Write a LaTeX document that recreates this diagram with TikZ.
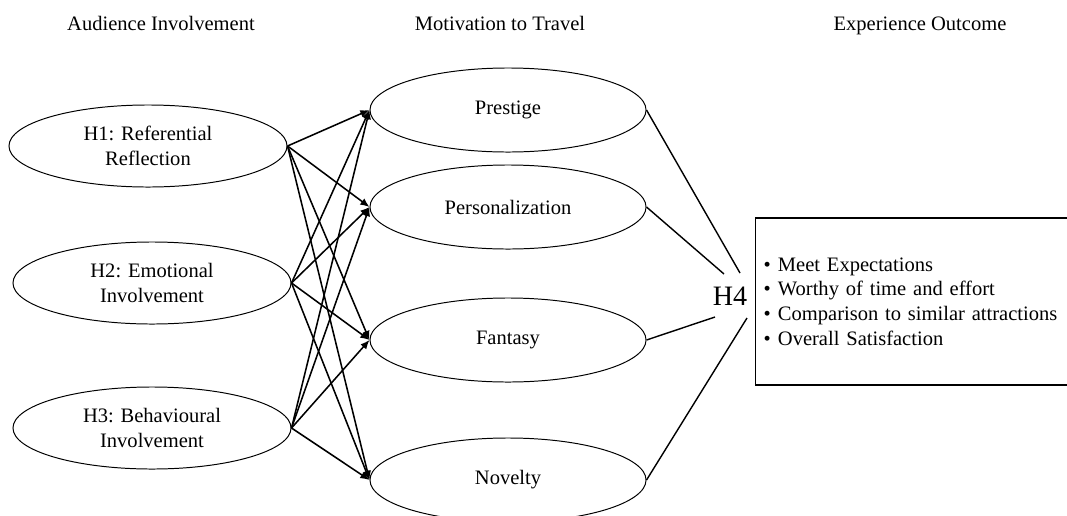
\documentclass[tikz,border=0pt]{standalone}
\usepackage{fontspec}
\setmainfont{Liberation Serif}
\usetikzlibrary{shapes.geometric,arrows.meta}

\newcommand{\bodyfont}{\fontsize{14.6}{17.6}\selectfont}

\tikzset{
	hypo/.style={ellipse, draw, line width=0.7pt, minimum width=6.95cm, minimum height=2.05cm, inner sep=0pt, align=center, font=\bodyfont},
	motive/.style={hypo, minimum width=6.9cm, minimum height=2.1cm},
	heading/.style={font=\bodyfont, anchor=base},
	link/.style={line width=1.1pt, -{Latex[length=6.5pt,width=5.5pt]}},
	outline/.style={line width=1pt}
}

\begin{document}
\begin{tikzpicture}[x=0.025cm, y=-0.025cm]
\useasboundingbox (0,0) rectangle (1067,515);
\clip (0,0) rectangle (1067,515);

\pgfmathsetmacro{\colA}{148}
\pgfmathsetmacro{\colB}{508}

\node[heading] (hdA) at (161,30) {Audience Involvement};
\node[heading] (hdB) at (500,30) {Motivation to Travel};
\node[heading] (hdC) at (920,30) {Experience Outcome};

\node[hypo] (h1) at (\colA,146) {H1: Referential\\Reflection};
\node[hypo] (h2) at (\colA+4,283) {H2: Emotional\\Involvement};
\node[hypo] (h3) at (\colA+4,428) {H3: Behavioural\\Involvement};

\node[motive] (pr) at (\colB,110) {Prestige};
\node[motive] (pe) at (\colB,207) {Personalization};
\node[motive] (fa) at (\colB,340) {Fantasy};
\node[motive] (no) at (\colB,480) {Novelty};

\foreach \s in {h1,h2,h3}
	\foreach \t in {pr,pe,fa,no}
		\draw[link] (\s.east) -- (\t.west);

\node[font=\fontsize{20}{24}\selectfont] (h4) at (730,296) {H4};
\coordinate (h4a) at (740,273);
\coordinate (h4b) at (724,274);
\coordinate (h4c) at (715,317);
\coordinate (h4d) at (747,318);

\draw[outline] (pr.east) -- (h4a);
\draw[outline] (pe.east) -- (h4b);
\draw[outline] (fa.east) -- (h4c);
\draw[outline] (no.east) -- (h4d);

\node[draw, line width=0.8pt, anchor=west, minimum width=8.375cm, minimum height=4.175cm,
	inner xsep=0.2cm, text width=7.975cm, align=left, font=\bodyfont] (outcome) at (755,301.5)
	{\textbullet\hspace{0.35em}Meet Expectations\\
	\textbullet\hspace{0.35em}Worthy of time and effort\\
	\textbullet\hspace{0.35em}Comparison to similar attractions\\
	\textbullet\hspace{0.35em}Overall Satisfaction};
\end{tikzpicture}
\end{document}
